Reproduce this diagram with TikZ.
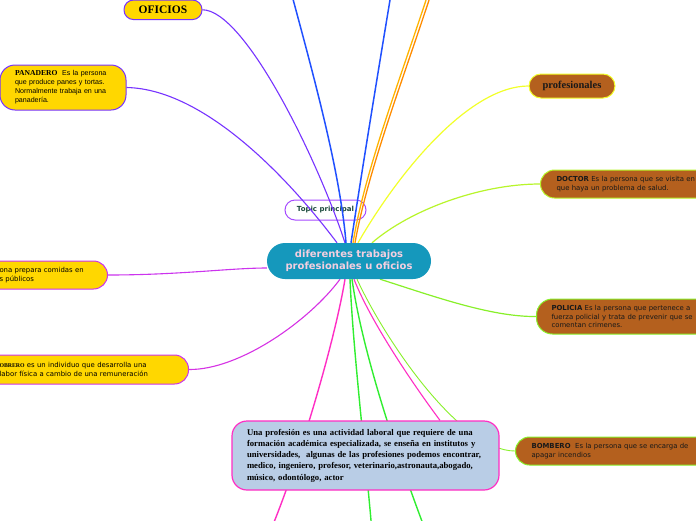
\documentclass[tikz,border=0pt]{standalone}
\usepackage{fontspec}
\setmainfont{Liberation Serif}
\newfontfamily\verdfont{DejaVu Sans}
\newfontfamily\arialfont{Liberation Sans}
\definecolor{hubblue}{HTML}{1598BC}
\definecolor{hubtext}{HTML}{F4CFE0}
\definecolor{oro}{HTML}{FFD700}
\definecolor{cafe}{HTML}{B4601E}
\definecolor{celeste}{HTML}{B9CDE6}
\definecolor{violeta}{HTML}{7733FF}
\definecolor{magvio}{HTML}{CC33EE}
\definecolor{rosa}{HTML}{FF2EC4}
\definecolor{amarillo}{HTML}{F2FF2A}
\definecolor{limon}{HTML}{B8F52A}
\definecolor{verdelima}{HTML}{88F02A}
\definecolor{azul}{HTML}{2050FF}
\definecolor{naranja}{HTML}{FF8C00}
\definecolor{dorado}{HTML}{FFB400}
\definecolor{verde}{HTML}{30EE30}
\definecolor{flotborde}{HTML}{A64BFF}
\definecolor{flottexto}{HTML}{1B4A3C}
\pgfdeclarelayer{under}
\pgfdeclarelayer{wires}
\pgfsetlayers{under,wires,main}
\tikzset{
  every node/.style={inner sep=0pt},
  hubbox/.style={fill=hubblue, rounded corners=18pt, minimum width=164pt,
    minimum height=36pt, align=center, text=hubtext,
    font=\verdfont\bfseries\fontsize{10}{12}\selectfont},
  yellowbox/.style={fill=oro, line width=1pt, text=black},
  brownbox/.style={fill=cafe, line width=1pt, text=black!90},
  leaftext/.style={align=left, font=\verdfont\fontsize{6.9}{8.6}\selectfont},
  conector/.style={line width=#1},
  conector/.default=1.1pt
}
\begin{document}
\begin{tikzpicture}[x=1pt,y=-1pt]
\useasboundingbox (0,0) rectangle (696,520);

% nodo suelto, las lineas pasan por encima
\begin{pgfonlayer}{under}
  \fill[white] (0,0) rectangle (696,520);
  \node[fill=white, draw=flotborde, line width=1pt, rounded corners=10pt,
    minimum width=81pt, minimum height=20pt, text=flottexto,
    font=\verdfont\bfseries\fontsize{7}{8}\selectfont] (flotante) at (325.5,210) {Topic principal};
\end{pgfonlayer}

% tema central
\node[hubbox] (tema) at (349,261) {diferentes trabajos\\profesionales u oficios};

% oficios (izquierda)
\node[yellowbox, draw=violeta, rounded corners=9.5pt, minimum width=78pt, minimum height=19.5pt,
  font=\bfseries\fontsize{11.5}{13}\selectfont] (oficios) at (163,9.8) {OFICIOS};
\node[yellowbox, draw=violeta, rounded corners=15pt, text width=96pt, inner xsep=15pt,
  minimum height=45pt, align=left, font=\arialfont\fontsize{7.1}{9}\selectfont] (panadero) at (63,87.5)
  {{\rmfamily\bfseries\fontsize{7.6}{9}\selectfont PANADERO}\ \ Es la persona\\que produce panes y tortas.\\Normalmente trabaja en una\\panadería.};
\node[yellowbox, draw=magvio, rounded corners=14pt, anchor=east, text width=93pt, inner xsep=15pt,
  minimum height=28pt, leaftext] (cocina) at (108,275) {ona prepara comidas en\\s públicos};
\node[yellowbox, draw=magvio, rounded corners=14pt, anchor=east, text width=174pt, inner xsep=15pt,
  minimum height=29pt, leaftext] (obrero) at (189,369.5)
  {{\rmfamily\bfseries\fontsize{5.8}{8.6}\selectfont OBRERO} es un individuo que desarrolla una\\labor física a cambio de una remuneración};

% profesionales (derecha)
\node[brownbox, draw=amarillo, rounded corners=12pt, minimum width=86pt, minimum height=24pt,
  font=\bfseries\fontsize{10.5}{12}\selectfont] (profes) at (572,86) {profesionales};
\node[brownbox, draw=limon, anchor=west, rounded corners=14pt, text width=200pt, inner xsep=16pt,
  minimum height=28pt, leaftext] (doctor) at (540,184)
  {\textbf{DOCTOR} Es la persona que se visita en\\que haya un problema de salud.};
\node[brownbox, draw=verdelima, anchor=west, rounded corners=16pt, text width=200pt, inner xsep=15pt,
  minimum height=35pt, leaftext] (policia) at (536,316.5)
  {\textbf{POLICIA} Es la persona que pertenece a\\fuerza policial y trata de prevenir que se\\comentan crimenes.};
\node[brownbox, draw=verdelima, anchor=west, rounded corners=14pt, text width=200pt, inner xsep=16pt,
  minimum height=28pt, leaftext] (bombero) at (515,451)
  {\textbf{BOMBERO}\ \ Es la persona que se encarga de\\apagar incendios};

% definicion
\node[fill=celeste, draw=rosa, line width=1.2pt, rounded corners=15pt, minimum width=267pt,
  minimum height=69pt, text width=237pt, inner xsep=15pt, align=left,
  font=\bfseries\fontsize{8.7}{11.3}\selectfont] (definicion) at (365.5,455.5)
  {Una profesión es una actividad laboral que requiere de una\\
   formación académica especializada, se enseña en institutos y\\
   universidades,\ \ algunas de las profesiones podemos encontrar,\\
   medico, ingeniero, profesor, veterinario,astronauta,abogado,\\
   músico, odontólogo, actor};

% ramas que salen del cuadro
\coordinate (arribaA) at (290,-12);
\coordinate (arribaB) at (392,-12);
\coordinate (arribaC) at (430,-12);
\coordinate (arribaD) at (433,-12);
\coordinate (abajoA) at (270,532);
\coordinate (abajoB) at (372,532);
\coordinate (abajoC) at (426,532);

\begin{pgfonlayer}{wires}
  \draw[conector, violeta] (oficios.east) .. controls (245,10) and (318,160) .. ([xshift=-4pt]tema.north);
  \draw[conector, violeta] (panadero.east) .. controls (205,89) and (290,180) .. ([xshift=-12pt]tema.north);
  \draw[conector=1.5pt, azul] (arribaA) .. controls (312,70) and (340,170) .. ([xshift=-3pt]tema.north);
  \draw[conector=1.5pt, azul] (arribaB) .. controls (380,60) and (362,170) .. ([xshift=2pt]tema.north);
  \draw[conector=1.3pt, dorado] (arribaC) .. controls (400,80) and (365,170) .. ([xshift=4pt]tema.north);
  \draw[conector=1.3pt, naranja] (arribaD) .. controls (403,80) and (368,170) .. ([xshift=6pt]tema.north);
  \draw[conector=1.2pt, amarillo] (profes.west) .. controls (470,86) and (400,170) .. ([xshift=9pt]tema.north);
  \draw[conector=1.2pt, limon] (doctor.west) .. controls (480,184) and (410,210) .. ([xshift=23pt]tema.north);
  \draw[conector=1.2pt, verdelima] ([xshift=31pt]tema.south) .. controls (430,295) and (490,317) .. (policia.west);
  \draw[conector=0.9pt, verdelima] ([xshift=8pt]tema.south) .. controls (385,340) and (460,451) .. (bombero.west);
  \draw[conector, rosa] ([xshift=5pt]tema.south) .. controls (370,320) and (410,380) .. ([xshift=74.5pt]definicion.north);
  \draw[conector=1.4pt, rosa] ([xshift=-4pt]tema.south) .. controls (335,340) and (300,460) .. (abajoA);
  \draw[conector=1.4pt, verde] ([xshift=1pt]tema.south) .. controls (353,350) and (366,460) .. (abajoB);
  \draw[conector=1.4pt, verde] ([xshift=3pt]tema.south) .. controls (362,350) and (395,450) .. (abajoC);
  \draw[conector, magvio] (cocina.east) .. controls (180,275) and (230,268) .. ([yshift=-7pt]tema.west);
  \draw[conector, magvio!80!rosa] (obrero.east) .. controls (240,370) and (310,320) .. ([xshift=-9pt]tema.south);
\end{pgfonlayer}
\end{tikzpicture}
\end{document}
